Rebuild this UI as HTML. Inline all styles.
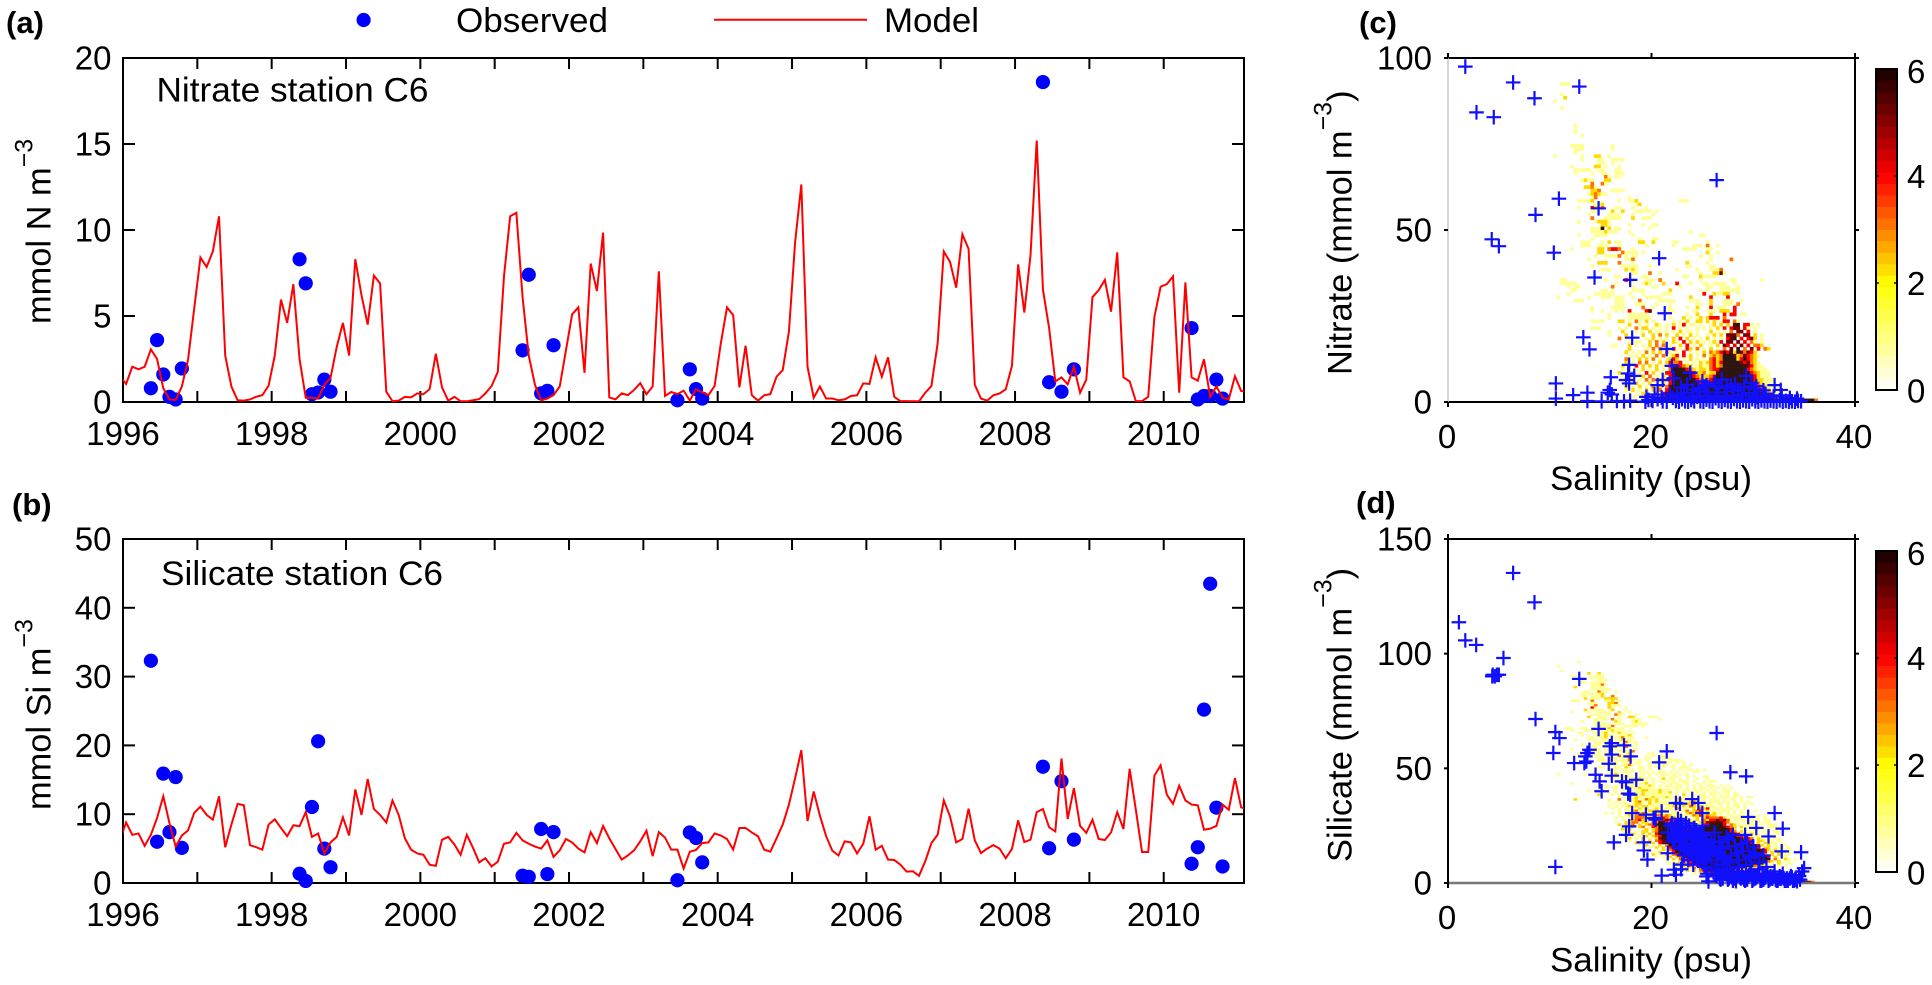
<!DOCTYPE html>
<html>
<head>
<meta charset="utf-8">
<title>Nitrate and silicate at station C6</title>
<style>
html,body{margin:0;padding:0;background:#fff;}
svg{display:block;}
text{font-family:"Liberation Sans",Arial,sans-serif;fill:#000;}
</style>
</head>
<body>
<svg id="figure" xmlns="http://www.w3.org/2000/svg" width="1932" height="985" viewBox="0 0 1932 985">
<defs>
<clipPath id="clip-a"><rect x="123" y="58" width="1121" height="344"/></clipPath>
<clipPath id="clip-b"><rect x="123" y="539" width="1121" height="344"/></clipPath>
</defs>
<rect width="1932" height="985" fill="#fff"/>
<g id="layer-main"></g>

<text x="6" y="33" font-size="31" font-weight="bold">(a)</text>
<text x="12" y="515" font-size="31" font-weight="bold">(b)</text>
<text x="1359" y="33" font-size="31" font-weight="bold">(c)</text>
<text x="1356" y="513" font-size="31" font-weight="bold">(d)</text>

<g>
<circle cx="363.6" cy="20" r="7.1" fill="#0000ff"/>
<text x="456" y="32" font-size="34.6" textLength="152" lengthAdjust="spacingAndGlyphs">Observed</text>
<line x1="714" x2="867" y1="19.7" y2="19.7" stroke="#ff0000" stroke-width="2"/>
<text x="884" y="32" font-size="34.6" textLength="95" lengthAdjust="spacingAndGlyphs">Model</text>
</g>

<text x="156.5" y="101.5" font-size="34" textLength="272" lengthAdjust="spacingAndGlyphs">Nitrate station C6</text>
<text x="161" y="585" font-size="34" textLength="282" lengthAdjust="spacingAndGlyphs">Silicate station C6</text>

<text transform="translate(50.5,324) rotate(-90)" font-size="34.4">mmol N m<tspan dy="-18" font-size="25">−3</tspan></text>
<text transform="translate(50.5,810) rotate(-90)" font-size="34.4">mmol Si m<tspan dy="-18" font-size="25">−3</tspan></text>
<text transform="translate(1351.5,375) rotate(-90)" font-size="34.4">Nitrate (mmol m<tspan dy="-20" font-size="25">−3</tspan><tspan dy="20">)</tspan></text>
<text transform="translate(1351.5,862) rotate(-90)" font-size="34.4">Silicate (mmol m<tspan dy="-20" font-size="25">−3</tspan><tspan dy="20">)</tspan></text>
<text x="1550" y="490" font-size="34.6" textLength="202" lengthAdjust="spacingAndGlyphs">Salinity (psu)</text>
<text x="1550" y="971.5" font-size="34.6" textLength="202" lengthAdjust="spacingAndGlyphs">Salinity (psu)</text>
</svg>

<script>
// ---------- time series data ----------
const seriesStartYear = 1996;
const yearTicks = [1996,1997,1998,1999,2000,2001,2002,2003,2004,2005,2006,2007,2008,2009,2010];
const yearLabels = [1996,1998,2000,2002,2004,2006,2008,2010];
const nitrateTicks = [0,5,10,15,20];
const silicateTicks = [0,10,20,30,40,50];

// monthly model values; first entry is December 1995
const nitrateModel = [1.5,
1.05,2.05,1.9,2.05,3.06,2.5,.8,.15,.12,.9,
2.45,5.45,8.4,7.85,8.75,10.8,2.7,.9,.1,.08,
.15,.3,.4,.95,2.7,5.95,4.6,6.85,2.5,.25,
.25,.2,1.0,1.4,3.2,4.6,2.7,8.3,6.2,4.5,
7.35,6.9,.6,.05,.08,.3,.27,.5,.45,.75,
2.8,.85,.08,.3,.05,.04,.1,.17,.5,.93,
1.75,7.3,10.8,11.0,6.1,2.7,1.0,.1,.2,.4,
.9,3.0,5.1,5.5,1.7,8.05,6.45,9.85,.27,.15,
.5,.4,.7,1.1,.45,.9,7.6,.35,.58,.46,
.66,.08,.74,.56,.4,.93,3.4,5.5,5.05,.85,
3.27,.4,.08,.39,.46,1.47,1.86,4.1,9.3,12.65,
2.05,.25,.9,.2,.2,.1,.15,.35,.39,1.08,
1.05,2.6,1.47,2.6,.3,.05,.05,.04,.04,.54,
.93,3.4,8.75,8.15,6.65,9.75,8.9,1.0,.2,.08,
.39,.5,.74,2.1,8.0,5.2,8.55,15.2,6.55,4.3,
1.2,1.43,1.03,2.05,.54,1.3,6.1,6.5,7.1,5.25,
8.7,1.43,1.2,.05,.05,.3,4.95,6.7,6.85,7.3,
.54,6.95,1.43,1.24,2.48,.3,.9,.25,.15,1.5,
.64,.58];

const silicateModel = [6.2,
8.8,7.0,7.2,5.4,7.0,9.45,12.6,8.7,5.3,6.9,
7.65,10.2,11.1,9.9,9.2,12.6,5.2,8.5,11.5,11.3,
5.5,5.2,4.85,8.5,9.25,8.0,6.8,8.4,8.25,10.3,
6.7,7.2,4.3,5.9,6.7,9.55,6.9,13.6,9.9,15.1,
10.75,9.9,8.8,12.0,9.9,6.5,4.85,4.3,4.1,2.65,
2.5,6.3,6.7,5.6,4.1,7.0,5.1,3.0,3.6,2.4,
3.1,5.7,5.9,7.3,6.2,5.7,5.3,5.0,6.2,3.8,
4.75,6.4,5.9,5.0,4.45,7.4,5.8,8.3,6.5,4.95,
3.4,4.0,4.75,6.05,7.6,3.9,7.4,6.6,4.85,4.85,
2.1,4.55,4.8,5.8,5.9,7.2,6.9,6.4,4.85,8.0,
8.0,7.35,6.8,4.85,4.55,6.5,8.5,11.4,15.25,19.3,
9.0,13.3,9.8,6.8,4.7,4.0,6.05,5.9,4.3,5.7,
9.7,4.85,5.4,3.4,3.35,2.65,1.65,1.7,1.05,3.15,
5.8,7.0,12.0,9.7,5.9,6.4,10.8,6.2,4.35,5.0,
5.5,5.0,3.6,4.95,9.1,5.95,6.3,10.3,10.75,8.1,
7.5,18.1,9.3,13.8,8.3,7.3,9.2,6.4,6.25,7.35,
10.3,7.85,16.6,10.65,4.5,4.5,15.6,17.1,12.85,11.5,
14.15,12.0,11.4,11.3,7.75,7.9,8.3,11.4,10.65,15.25,
11.0,10.65];

// months since January 1996 at which samples were taken
const observedMonths = [4,5,6,7,8,9,28,29,30,31,32,33,64,65,67,68,69,89,91,92,93,148,149,151,153,172,173,174,175,176,177];
const nitrateObserved = [.8,3.6,1.6,.3,.15,1.95,8.3,6.9,.45,.55,1.3,.6,3.0,7.4,.5,.65,3.3,.1,1.9,.75,.2,18.6,1.15,.6,1.9,4.3,.15,.35,.35,1.3,.2];
const silicateObserved = [32.3,6.0,15.9,7.4,15.4,5.1,1.35,.3,11.05,20.6,5.0,2.3,1.05,.9,7.85,1.3,7.4,.4,7.35,6.55,3.0,16.9,5.05,14.8,6.3,2.8,5.2,25.2,43.5,10.95,2.4];

// ---------- scatter data (salinity, concentration) ----------
const salinityTicks = [0,20,40];
const nitrateScatterTicks = [0,50,100];
const silicateScatterTicks = [0,50,100,150];
const colorbarTicks = [0,2,4,6];
const colorbarBands = [0,.214,.429,.643,.857,1.071,1.286,1.5,1.714,1.929,2.143,2.357,2.571,2.786,3,3.214,3.429,3.643,3.857,4.071,4.286,4.5,4.714,4.929,5.143,5.357,5.571,5.786];

const nitrateCrossSalinity = [1.7,6.4,12.9,8.5,2.8,4.5,26.4,10.9,14.8,8.6,4.3,5.0,10.4,20.75,14.4,17.9,21.3,13.3,18.1,13.9,21.5,22.0,17.8,17.7,18.3,17.5,16.0,22.2,21.1,23.8,29.3,30.3,32.1,32.7,10.6,10.6,12.3,13.7,17.8,15.9,15.7,16.1,20.6,24.6,25.4,26.6,
13.7,15.1,16.6,17.3,17.9,19.4,19.7,20.1,20.6,21.1,21.5,22.1,22.4,22.7,23,23.3,23.6,23.9,24.2,24.5,24.8,25.1,25.4,25.7,26,26.3,26.6,26.9,27.2,27.5,27.8,28.1,28.4,28.7,29,29.3,29.6,29.9,30.2,30.5,30.8,31.1,31.4,31.7,32,32.3,32.6,32.9,33.2,33.5,33.8,34.1,34.4,34.7,
19.5,20.3,21,21.8,22.5,23.2,24,24.8,25.6,26.4,27.2,28,28.8,29.6,30.4,31.2,32,32.8,33.6,34.3,
22.9,24.1,25.2,26.2,27.4,28.2,29.1,30.1,31,23.5,25,26.9,27.8,28.5,29.8];
const nitrateCrossValue = [97.5,92.9,91.7,88.3,84.2,82.8,64.5,59.1,56.3,54.4,47.3,45.3,43.4,41.8,36.2,35.5,25.8,18.8,18.7,15.3,15.4,10.5,10.8,8.3,7.6,6.4,7.2,6.9,6.4,8.5,7.6,4.6,4.9,3.5,5.4,1.0,2.0,2.7,5.4,3.5,2.7,2.2,4.9,4.0,4.9,4.5,
.3,.2,.3,.2,.4,.1,.6,.3,.8,.2,.1,1.2,.3,.1,.8,.2,.1,.6,.2,1.5,.2,.1,.7,.2,.1,1.1,.3,.1,.6,.2,.1,.9,.2,.1,.5,.2,.1,.8,.2,.1,.5,.2,.1,.4,.2,.1,.5,.1,.3,.1,.2,.1,.3,.2,
1.5,2.2,1.3,2.4,1.6,2.6,1.4,3,1.8,2.8,1.5,3.2,1.9,2.6,1.4,2.4,1.6,1.9,1.2,1.0,
4.2,3.6,4.5,5.6,4.1,5.2,4.4,3.8,3.4,5,6,6.5,4.8,3.6,5.5];

const silicateCrossSalinity = [1.07,1.7,2.77,5.45,6.4,8.5,12.9,4.4,4.6,4.8,4.35,5.0,8.6,10.55,10.95,10.35,14.8,16.1,15.9,17.3,16.1,17.95,15.8,13.9,13.7,13.5,13.6,13.4,12.4,20.75,21.5,26.4,27.75,29.3,14.5,14.9,15.1,16.1,17.1,17.5,18.5,17.7,17.9,10.55,16.3,17.5,17.8,18.1,19.25,19.25,19.6,19.45,20.2,20.4,21,22.4,22.8,24,24.6,25,29.5,32.1,30.3,32.9,31.5,32.8,34.7,21,21.6,22.4,22.2,25.6,25.4,
22,22.5,22.9,23.3,23.7,24,24.4,24.8,25.1,25.5,22.2,22.7,23.1,23.5,23.9,24.3,24.7,25,25.4,25.8,23.2,23.6,24.1,24.5,25,23,22.9,26.2,26.6,27,27.4,27.8,28.2,28.6,29,29.4,29.8,30.2,30.6,31,26.1,26.5,26.9,27.3,27.7,28.1,28.5,28.9,29.3,29.7,30.1,30.5,30.9,31.3,31.7,32.1,32.5,32.9,33.3,33.7,34.1,34.5,34.8,35,34.3,33.9,33.1,32.3,31.5,30.7,29.9,29.1,28.3,27.5,26.7,26.3,25.9,25.5,25.2,27.9,28.7,29.5,30.3,31.1,31.9,32.7,
21.6,21.9,22.1,22.4,22.6,22.8,23,23.2,23.4,23.6,23.8,24,24.2,24.4,24.6,24.8,25,25.2,25.4,25.6,
22.3,22.7,23.1,23.5,23.9,24.3,24.7,25.1,25.5,25.9,23.4,23.8,24.2,24.6,25,25.4,25.8,26.2,26.6,27,
26.4,26.8,27.2,27.6,28,28.4,28.8,29.2,29.6,30,30.4,30.8,31.2,31.6,32,32.4,32.8,33.2,33.6,34,
26.2,26.6,27,27.4,27.8,28.2,28.6,29,29.4,29.8,30.2,30.6,31,31.4,31.8,32.2,32.6,33,33.4,33.8,34.2,34.6,
26.8,27.6,28.4,29.2,30,26.4,27.2,28,28.8,29.6];
const silicateCrossValue = [113.7,105.8,103.8,98.1,135.2,122.4,89,90.8,90.1,90.8,90.1,90.8,71.5,65.8,63.2,56.7,67.2,61,59.6,60,56,55.2,52,58.1,56.7,55.2,53,52.3,52.3,52.6,57.4,65.4,48.3,46.5,47.2,44.3,40,46.8,44.3,43.9,45,39,38.5,7,17.7,21,24.7,30.5,17.7,14.2,10.2,29.8,28.3,27.6,31.2,34.9,34.6,36.6,34.9,30.5,28.8,30.5,24,23.7,20.3,13.8,13.4,3.2,13,3.6,5.8,.7,2.9,
26,24,27,22,25,20,23,18,21,16,20,18,16,19,14,17,13,15,19,12,12,10,8,11,9,8,6,22,18,15,20,12,16,10,14,18,11,13,9,12,14,10,8,6,9,5,7,4,8,5,3,6,4,7,3,5,2,4,2,3,1.5,3,5,6.5,.8,1,1,1,1,1,1,1.5,.8,1.5,2,4,6,4,7,2.5,2.5,2.8,2.5,2.2,2,1.8,
22,25,18,21,28,15,24,19,26,14,22,17,24,12,20,15,25,11,17,13,
19,23,20,17,19,21,18,22,14,18,15,13,15,16,13,10,15,18,13,10,
3,1.5,4,2,1,3,2,1,3.5,1.5,3,1,2.5,1.5,3,1,2.5,1,2,1,
6,4,2,5,3,2,4.5,2.5,1.5,4,2,3.5,1.5,3.5,2,1.5,3,2,1,2.5,2,1.5,
16,19,13,21,16,12,11,21,17,12];

// ---------- 2-D histogram: [row (mmol bin), first column (third-psu offset from col 24), colour levels]
const histogramLevels = [0,.8,2.3,3.1,4,5.2,6.5];
const nitrateHistogram = [
[92,9,"111"],[89,9,"1"],[88,10,"2"],[87,7,"1"],[85,9,"1"],[80,13,"1"],[79,13,"1"],[78,13,"1"],[77,15,"1"],
[74,12,"1111........1"],[73,13,"111........1"],[72,13,"1"],[71,7,"1.......1...22..1"],[70,15,"1....11..1111"],
[69,20,"11..1"],[68,12,"1......22.1...1"],[67,13,"11111..11...11"],[66,13,"1....1..11..111"],[65,22,"31.11"],
[64,15,"1211...22"],[63,18,"3..31"],[62,16,"2231"],[61,18,"223...1111"],[60,17,"123211"],
[59,18,"13.........1"],[58,14,"11112.......1..112............111"],[57,19,"112.........12"],[56,14,"1...42.3...11...1...1"],
[55,18,"11....2..2...11111.1"],[54,17,"1.....1111...1.....1"],[53,18,"3...11111...2..111"],[52,14,"1....12221"],
[51,21,"221.....1...1..11"],[50,18,"1116.2.11........1"],[49,18,"11112111...1.................1"],[48,14,"1....1111.......1...................11"],
[47,18,"1.............1...11"],[46,15,"111...1.2.11.....22..2.....11........1"],[45,15,"111..111...1.......1.......1.....111.3..1"],
[44,12,"1.......22.3443...1..............1111...11"],[43,20,"22.....31111.1..................2..1"],[42,19,"1..11113.1.11..................1..1"],
[41,17,"1..........113......................1.....3"],[40,20,"222...3...1...............2.....1"],[39,18,"1........11111...1..........11.....11"],
[38,21,"111....2121...........1.....1...1113"],[37,30,"11...3..1...........1...2251"],[36,25,"11..1...11..........11...21111"],
[35,9,"11...........1.....4.1...111.3...........1........11.......1"],[34,9,"11111...........1...1...121...2...4...1...11.1111..1"],
[33,11,"1.11.........3.....1.....11......1.......11..111..1"],[32,12,"11.......11.1.....1111.......2........1.1...111111"],
[31,11,"1.......111111....1...1.....111.........4..21122..1"],[30,8,"1........1...111.111..1...11111........2.....4....4"],
[29,13,"111.........111....3.....11111....111...2...111..1"],[28,25,"111...111...1...1.......11..2...111.3"],
[27,18,"1.....1111.....3..1....1....1..2...4.111..4"],[26,18,"1..1...1.1.4....45...1111.....11..111.222.4"],
[25,23,"1.....111111...........1..2...2...4.44.11"],[24,23,"1.....1111111.....1...2.1.12.2444.3"],
[23,18,"1111....22.1.31.2.1.....1.1.2..22.2.2.144.31"],[22,29,"2..1.1..21.1.2.14.11.1..12.2.2.56.441.1"],
[21,18,"111.....1.1..3.22.1.1.1.4.1.1..1.1.1.2.4.455.41.1"],[20,23,"1...2...1.1.2.11.1.1.2.11.1...2.1.1.3.55.4.1"],
[19,23,"1....2....2..2.3.2..2.1.2.1..1.2.2.5553.55.2.1"],[18,26,"3.1.....1.2.1.1.2.4.2.1.1.2.1.1.456.4.452.1"],
[17,26,"...1.11..2.3.2..21.4.2.2.1.12.4.55.5.4.31.1"],[16,24,"11...2.1.1.2.3.3.1..2.4.1.2..1.2.54.4.5.4.332"],
[15,26,"...2....1.3.3.2.4.1.42.3.1.2.1.3.5.6.3.5.4.32"],
[14,26,"..2.1.1.3.2.2.31.1.4.1.1.2.3234546265354"+"2"],
[13,26,"...1.1.2.1.3.3.124.4.2.1.3.2323666523543"+"21"],
[12,26,"..3.1.2.2.3.1.1242.1.2.1.1.3423666624643"+"2"],
[11,26,"..2.1.3.3.1.2.24334.1.1.21234"+"24666665453"+"21"],
[10,26,".2.1.4.2.2.2.1.4654322.121134"+"23666666654"+"211"],
[9,26,".1.1.1.2.1.2.1.36666432122134"+"46666666643"+"2111"],
[8,26,"2.1.2.1.4.2.1.446666654223122"+"56666666664"+"32111"],
[7,26,".1.2.1.2.3.1.2.46666664322234"+"66666666665"+"42111"],
[6,26,"..2.1.1.3.3.2.246666666432345"+"66666666665"+"422111"],
[5,26,".1.1.2.1.2.1.2.46666666544346"+"66666666665"+"4321111"],
[4,26,"..2.1.2.1.3.2.356666666655566"+"66666666666"+"54321111"],
[3,26,"..1.2.1.2.2.3.466666666665666"+"66666666666"+"654321111"],
[2,26,"...1.1.2.1.3.4566666666666666"+"66666666666"+"66543211"],
[1,26,"....1.1.2.2.3466666666666666"+"66666666666"+"6666654321"],
[0,26,".....1.1.2.34666666666666666"+"66666666666"+"66666666666666666663"]
];

const silicateHistogram = [
[96,14,"1"],[94,8,"1"],[92,9,"1"],[91,17,"2..2"],[90,12,"11.....111"],[89,17,"11111"],[88,14,"11....111"],[87,15,"11.1111"],
[86,18,"11131"],[85,13,"2....1111"],[84,18,"111111"],[83,16,"11..311..1"],[82,15,"1111112"],[81,15,"11.1112..3"],
[80,16,"2.111.2222"],[79,12,"111...3...112.1"],[78,17,"111...223"],[77,18,"13...2111"],[76,18,"41...21...1"],[75,16,"2.1111..2...1"],
[74,12,"1....1..1111..2..1"],[73,18,"111.11.311...1"],[72,17,"2..111...1..22....111"],[71,19,"1111.311...111.....1"],[70,15,"1...11....21...121"],
[69,19,"11111.111..11111"],[68,19,"1211.3...1111.1"],[67,10,"111..11.1..1121111"],[66,12,"1...1111.1112111.1"],[65,14,"11...1112.11211.1"],
[64,15,"1...111211.1112"],[63,17,"11.112.1113111...1"],[62,13,"1...111.11.1.1211"],[61,19,"11112.11.3111"],[60,15,"1...11.111.1211.1"],
[59,18,"11.1.112113.1"],[58,12,"1.....111.1.11.1...1"],[57,19,"11.1.1.11113"],[56,14,"1...1.1.1111.112.....11"],[55,19,"1111.1.31111...1.1.11"],
[54,20,"11.111.1131...11..1111"],[53,16,"1...1111.111131.1.1..1.1.1111"],[52,21,"1.111.111.11..1.1.111.1.1"],[51,23,"111.1131.1..1.1.11.1..1.1"],[50,16,"1...11.1.11.21..11.1.1.1..1.111"],
[49,24,"11.11.1.11.1..1...1.1.11.1.1"],[48,19,"1...1.1.1111.1.1.1.11.1.1.1..11"],[47,8,"1.......1..1.1.1121.1..1.1.1.1.11.1.1.1"],
[46,22,"1..1.1211.11.1..11.111..1.1..11"],[45,19,"1....1111.112211.1..2.11.1.1..1..1"],[44,25,"1.1.112111.1.1.1.1.111.1..1.11"],
[43,12,"1.......1.....11.111112.1..1.111.11..1.1.1"],[42,20,"1.1..1.1.111.1121.1.11.11.1.1.1.111.1.1"],[41,22,"1.11.1.11121111.1.1.111.1.1.11.1.1.1.1"],
[40,17,"1.1.....1.1.1111221112111.1.11.111.1.1..11"],[39,20,"1..1.1.111.11211112112.1.1.1.1.1.111.11.1"],[38,20,"2...1.1.112112111111.1.1.2.11.11.11.1.1.11"],
[37,26,"1.1.12111121112111.1.1..111.1.111.1.1.11"],[36,13,"2.........1..3.1.12113212.1.1.2211.1.11.111.1.11.1"],[35,23,"1.1.11.123112.2111.12111232.1.111.11.1.1.1"],
[34,24,"1.1.1.1221.21111121121223.1111.11.1.11.1.1"],[33,23,"1.1.11212.221111.11221213212.111.1.1.11.1"],[32,24,"1.1.1111212.12111113.11.21324.111111.1.1"],
[31,26,"1.112311122212111.11312341211.111.1.1.1.1"],[30,22,"1.1.1.1211232121211.111.232321.1211.1.1.1.1"],[29,26,"1.121333122332321121113242322.1.11.111.1.1.1"],
[28,25,"1.1.11333121234323.211.12.2433342.11111.1.1.1"],[27,27,"1.22342.1333454332.2112.32445453.1.11.111.11"],[26,25,"1..2133.22.336643432.223.2355565431.1.111.1.11"],
[25,26,"2.223.2.2335666454322.22.4466664.321.1111.1.111"],[24,27,"1.12.23.14366666544442.46666665432.2111.11.111"],
[23,27,"2.2...12.2356666664456666666666642.111.11.11.11"],[22,27,"1.1.1.22.2366666666666666666666643.2.111.1.1.11"],
[21,28,"1.21.2.2.4666666666666666666666654.2.211.11.11"],[20,28,"2.1.1.2.23466666666666666666666664432111.1.1"],
[19,29,"2.1.2.1.25666666666666666666666666443.2111.11"],[18,29,"1.1.2.2.34566666666666666666666666644.22111.1"],
[17,31,"2.1..2.4566666666666666666666666664.2.2111.1"],[16,32,"1.2.1.2.36666666666666666666666666642.2.1.11"],
[15,33,"1.1.2.2.466666666666666666666666664.22.111.1"],[14,33,"1...1.2.346666666666666666666666666542.21.11"],
[13,36,"1.2.1.4666666666666666666666666664.2.21.1"],[12,36,"2.1.2.3466666666666666666666666663.2.2.11"],
[11,37,"1.1.2.2346666666666666666666666664.2.11"],[10,40,"1.2.3.4566666666666666666666666.31.21.1"],
[9,40,"1.1.2.34666666666666666666666632.2.11"],[8,41,"1.2.3.45666666666666666666662.1.21.11"],
[7,43,"1.2.3.456666666666666663.21.1.1.1"],[6,44,"1.2.3.356666666664332.21.11.1"],[5,46,"2.2.34566654433.1.2.1.1.1.1"],
[4,48,"1.2.34443321.21.1.1.2.1.2.1"],[3,50,"1.1.2.2.1.1.1.1.1.2.1.1.2.1.1.21"],[2,76,"35"],[1,77,"5663"],[0,78,"666653"]
];

// ---------- axis functions ----------
function linearScale(d0,d1,r0,r1){ return function(v){ return r0+(v-d0)*(r1-r0)/(d1-d0); }; }
const NS = "http://www.w3.org/2000/svg";
const layer = document.getElementById("layer-main");
function makeEl(tag, attrs, parent){
  const el = document.createElementNS(NS, tag);
  for (const k in attrs) el.setAttribute(k, attrs[k]);
  (parent||layer).appendChild(el);
  return el;
}
function colormap(v){
  if (v>=6) return "#2c1410";
  let r=255,g=255,b=0;
  if (v<2){ b=Math.round(255*(1-v/2)); }
  else if (v<4){ g=Math.round(255*(1-(v-2)/2)); }
  else { r=Math.round(255-(v-4)/2*235); g=0; }
  return "rgb("+r+","+g+","+b+")";
}
function drawTickLine(x1,y1,x2,y2,name,w,color){
  const t = makeEl("line",{x1:x1,y1:y1,x2:x2,y2:y2,stroke:color||"#000","stroke-width":w||2});
  
  
  return t;
}
function drawLabel(x,y,str,anchor,name,size){
  const t = makeEl("text",{x:x,y:y,"font-size":size||33,"text-anchor":anchor});
  t.textContent = str;
  
  
  return t;
}

// ---------- time-series panels ----------
function drawTimePanel(cfg){
  const L=123,R=1244,T=cfg.top,B=cfg.top+344;
  const xT = linearScale(1996,2011.08,L,R);
  const yV = linearScale(0,cfg.ymax,B,T);
  const frame = makeEl("rect",{x:L,y:T,width:R-L,height:B-T,fill:"none",stroke:"#000","stroke-width":2});
  
  
  yearTicks.forEach(function(yr){
    const x=xT(yr);
    if (yr>1996){
      drawTickLine(x,T,x,T+11,cfg.id+'-x-tick-top',2);
      drawTickLine(x,B,x,B-11,cfg.id+'-x-tick-bottom',2);
    }
  });
  yearLabels.forEach(function(yr){
    drawLabel(xT(yr),B+43,String(yr),"middle",cfg.id+'-x-tick-label');
  });
  cfg.yticks.forEach(function(v){
    const y=yV(v);
    if (v>0 && v<cfg.ymax){
      drawTickLine(L,y,L+12,y,cfg.id+'-y-tick-left',2);
      drawTickLine(R,y,R-12,y,cfg.id+'-y-tick-right',2);
    }
    drawLabel(111.5,y+11.5,String(v),"end",cfg.id+'-y-tick-label');
  });
  observedMonths.forEach(function(m,i){
    const c = makeEl("circle",{cx:xT(seriesStartYear+(m+.5)/12),cy:yV(cfg.observed[i]),r:7.1,fill:"#0000ff"});
    
    
  });
  const pts = cfg.model.map(function(v,i){ return xT(seriesStartYear+(i-.5)/12).toFixed(2)+","+yV(v).toFixed(2); }).join(" ");
  const line = makeEl("polyline",{points:pts,fill:"none",stroke:"#ff0000","stroke-width":2,"stroke-linejoin":"miter","clip-path":"url(#"+cfg.clip+")"});
  
  
}
drawTimePanel({id:"nitrate-series",top:58,ymax:20,yticks:nitrateTicks,observed:nitrateObserved,model:nitrateModel,clip:"clip-a"});
drawTimePanel({id:"silicate-series",top:539,ymax:50,yticks:silicateTicks,observed:silicateObserved,model:silicateModel,clip:"clip-b"});

// ---------- scatter panels ----------
function drawScatterPanel(cfg){
  const L=1448,R=1855,T=cfg.top,B=cfg.top+344;
  const xS = linearScale(0,40,L,R);
  const yV = linearScale(0,cfg.ymax,B,T);
  cfg.histogram.forEach(function(row){
    const levels=row[2];
    for (let i=0;i<levels.length;i++){
      const ch=levels[i];
      if (ch===".") continue;
      const col=24+row[1]+i;
      const x0=xS(col/3), x1=xS((col+1)/3), y0=yV(row[0]+1), y1=yV(row[0]);
      const r = makeEl("rect",{x:x0.toFixed(2),y:y0.toFixed(2),width:(x1-x0+.3).toFixed(2),height:(y1-y0+.3).toFixed(2),fill:colormap(histogramLevels[+ch])});
      
      
    }
  });
  drawTickLine(L,T,R,T,cfg.id+'-axis-top',2);
  drawTickLine(R,T,R,B,cfg.id+'-axis-right',2);
  drawTickLine(L,B,R,B,cfg.id+'-axis-bottom',cfg.bottomWidth,cfg.bottomColor);
  drawTickLine(L,T,L,B,cfg.id+'-axis-left',cfg.leftWidth,cfg.leftColor);
  salinityTicks.forEach(function(s){
    const x=xS(s);
    drawTickLine(x,T,x,T-5,cfg.id+'-x-tick-top',2);
    drawTickLine(x,B,x,B+5,cfg.id+'-x-tick-bottom',2);
    drawLabel(x-1,B+46,String(s),"middle",cfg.id+'-x-tick-label');
  });
  cfg.yticks.forEach(function(v){
    const y=yV(v);
    drawTickLine(L,y,L-4,y,cfg.id+'-y-tick-left',2);
    drawTickLine(R,y,R+4,y,cfg.id+'-y-tick-right',2);
    drawLabel(1432,y+11.5,String(v),"end",cfg.id+'-y-tick-label');
  });
  cfg.crossX.forEach(function(s,i){
    const cx=xS(s), cy=yV(cfg.crossY[i]);
    const p = makeEl("path",{d:"M"+(cx-7.3).toFixed(2)+" "+cy.toFixed(2)+"h14.6M"+cx.toFixed(2)+" "+(cy-7.3).toFixed(2)+"v14.6",stroke:"#1010ff","stroke-width":2.2,fill:"none"});
    
    
  });
  // colorbar
  const cT=cfg.barTop, cB=cfg.barTop+321, cL=1876, cR=1897;
  const yC = linearScale(0,6,cB,cT);
  const bandStep = 6/colorbarBands.length;
  colorbarBands.forEach(function(v){
    const y1=yC(v), y0=yC(v+bandStep);
    const r = makeEl("rect",{x:cL,y:y0.toFixed(2),width:cR-cL,height:(y1-y0+.4).toFixed(2),fill:colormap(v+bandStep/2 >= 5.9 ? 5.75 : v+bandStep/2)});
    
    
  });
  const box = makeEl("rect",{x:cL,y:cT,width:cR-cL,height:cB-cT,fill:"none",stroke:"#000","stroke-width":2});
  
  
  colorbarTicks.forEach(function(v){
    const y=yC(v);
    if (v>0 && v<6){
      drawTickLine(cL,y,cL+3,y,cfg.id+'-colorbar-tick',1.5);
      drawTickLine(cR,y,cR-3,y,cfg.id+'-colorbar-tick',1.5);
    }
    const labelY = v===6 ? y+14 : (v===0 ? y+12.5 : y+12);
    drawLabel(1907,labelY,String(v),"start",cfg.id+'-colorbar-label');
  });
}
drawScatterPanel({id:"nitrate-scatter",top:58,ymax:100,yticks:nitrateScatterTicks,histogram:nitrateHistogram,crossX:nitrateCrossSalinity,crossY:nitrateCrossValue,barTop:69,leftColor:"#c8c8c8",leftWidth:1.5,bottomColor:"#000",bottomWidth:2});
drawScatterPanel({id:"silicate-scatter",top:539,ymax:150,yticks:silicateScatterTicks,histogram:silicateHistogram,crossX:silicateCrossSalinity,crossY:silicateCrossValue,barTop:551,leftColor:"#000",leftWidth:2,bottomColor:"#777",bottomWidth:2.5});
</script>
</body>
</html>
